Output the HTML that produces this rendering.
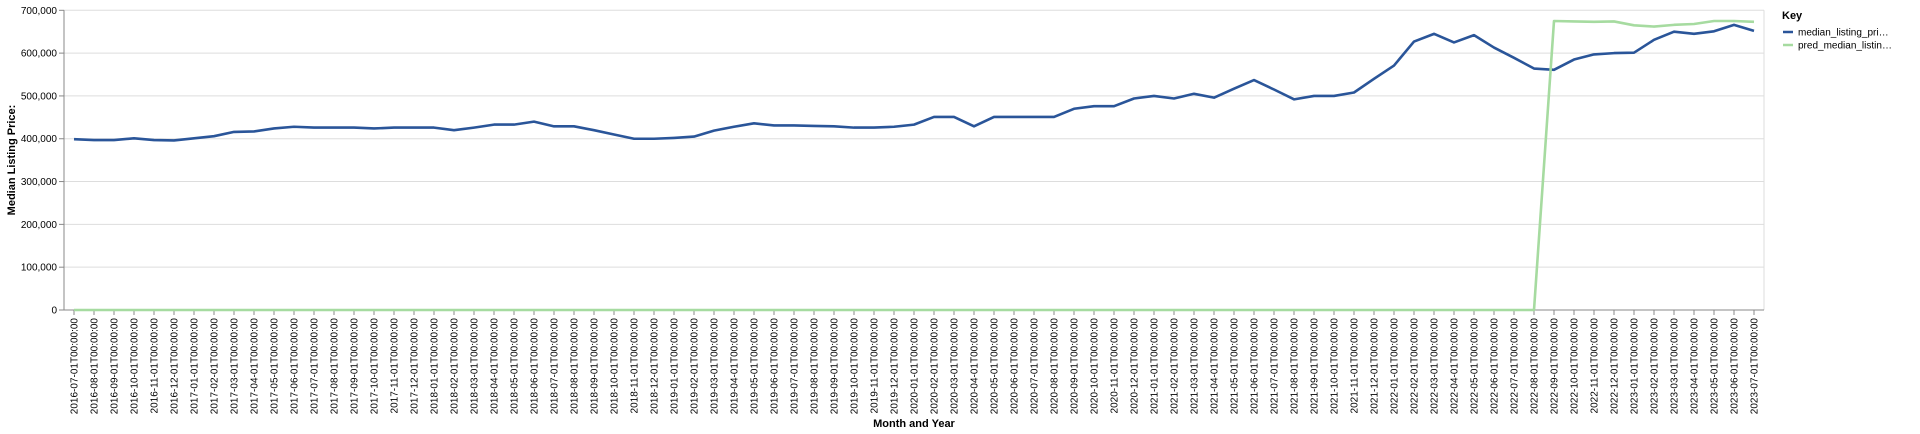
<!DOCTYPE html>
<html><head><meta charset="utf-8">
<style>
html,body{margin:0;padding:0;background:#fff;}
svg{display:block;font-family:"Liberation Sans",Arial,sans-serif;}
</style></head>
<body>
<svg id="chart" width="1920" height="434" viewBox="0 0 1920 434" xmlns="http://www.w3.org/2000/svg">
<g id="grid"></g>
<g id="yaxis"></g>
<g id="xaxis"></g>
<g id="series"></g>
<text transform="translate(15,160) rotate(-90)" text-anchor="middle" font-size="11" font-weight="bold" fill="#000">Median Listing Price:</text>
<text x="914" y="427" text-anchor="middle" font-size="11" font-weight="bold" fill="#000">Month and Year</text>
<g>
  <text x="1782" y="19" font-size="11" font-weight="bold" fill="#000">Key</text>
  <g>
    <line x1="1783" y1="32" x2="1793" y2="32" stroke="#2a5599" stroke-width="2.5"/>
    <text x="1798" y="35.5" font-size="10" fill="#000">median_listing_pri…</text>
  </g>
  <g>
    <line x1="1783" y1="45" x2="1793" y2="45" stroke="#a6dba0" stroke-width="2.5"/>
    <text x="1798" y="48.5" font-size="10" fill="#000">pred_median_listin…</text>
  </g>
</g>
</svg>
<script>
const yTicks = [0,100000,200000,300000,400000,500000,600000,700000];
const startYear = 2016, startMonth = 7, monthCount = 85;
const medianValues = [399000,397000,397000,401000,397000,396000,401000,406000,416000,417000,424000,428000,426000,426000,426000,424000,426000,426000,426000,420000,426000,433000,433000,440000,429000,429000,420000,410000,400000,400000,402000,405000,419000,428000,436000,431000,431000,430000,429000,426000,426000,428000,433000,451000,451000,429000,451000,451000,451000,451000,470000,476000,476000,494000,500000,494000,505000,496000,517000,537000,515000,492000,500000,500000,508000,540000,571000,627000,645000,625000,642000,613000,589000,564000,561000,585000,597000,600000,601000,631000,650000,645000,651000,666000,652000];
const predValues = [0,0,0,0,0,0,0,0,0,0,0,0,0,0,0,0,0,0,0,0,0,0,0,0,0,0,0,0,0,0,0,0,0,0,0,0,0,0,0,0,0,0,0,0,0,0,0,0,0,0,0,0,0,0,0,0,0,0,0,0,0,0,0,0,0,0,0,0,0,0,0,0,0,0,675000,674000,673000,674000,665000,662000,666000,668000,675000,675000,673000];

const NS="http://www.w3.org/2000/svg";
const L=64,R=1764,T=10.3,B=310,yMax=700000;
const step=(R-L)/monthCount;
const xs=i=>L+step*(i+0.5);
const ys=v=>B-(v/yMax)*(B-T);
function mk(tag,attrs,parent){const e=document.createElementNS(NS,tag);for(const k in attrs)e.setAttribute(k,attrs[k]);parent.appendChild(e);return e;}
const grid=document.getElementById('grid'),yax=document.getElementById('yaxis'),xax=document.getElementById('xaxis'),ser=document.getElementById('series');
const labels=[];
for(let i=0;i<monthCount;i++){const m=(startMonth-1+i)%12+1;const y=startYear+Math.floor((startMonth-1+i)/12);labels.push(y+'-'+String(m).padStart(2,'0')+'-01T00:00:00');}
yTicks.forEach(v=>{
  const y=ys(v);
  if(v>0){const g=mk('line',{x1:L,x2:R,y1:y,y2:y,stroke:'#ddd','stroke-width':1},grid);
  
  }
  mk('line',{x1:L-5,x2:L,y1:y,y2:y,stroke:'#888'},yax);
  const t=mk('text',{x:L-7,y:y+3.5,'text-anchor':'end','font-size':10,fill:'#000'},yax);
  t.textContent=v.toLocaleString('en-US');
  
  
});
mk('line',{x1:R,x2:R,y1:T,y2:B,stroke:'#ddd'},grid);
mk('line',{x1:L,x2:L,y1:T,y2:B,stroke:'#888'},yax);
mk('line',{x1:L,x2:R,y1:B,y2:B,stroke:'#888'},xax);
labels.forEach((lab,i)=>{
  const x=xs(i);
  mk('line',{x1:x,x2:x,y1:B,y2:B+5,stroke:'#888'},xax);
  const t=mk('text',{transform:'translate('+(x+3.5)+','+(B+8)+') rotate(-90)','text-anchor':'end','font-size':10,fill:'#000'},xax);
  t.textContent=lab;
  
  
});
function path(vals,color,name){
  const d=vals.map((v,i)=>(i?'L':'M')+xs(i).toFixed(2)+','+ys(v).toFixed(2)).join('');
  const p=mk('path',{d:d,fill:'none',stroke:color,'stroke-width':2.6,'stroke-linejoin':'round'},ser);
  
  
}
path(medianValues,'#2a5599','median-listing-price-line');
path(predValues,'#a6dba0','pred-median-listing-price-line');
</script>
</body></html>
